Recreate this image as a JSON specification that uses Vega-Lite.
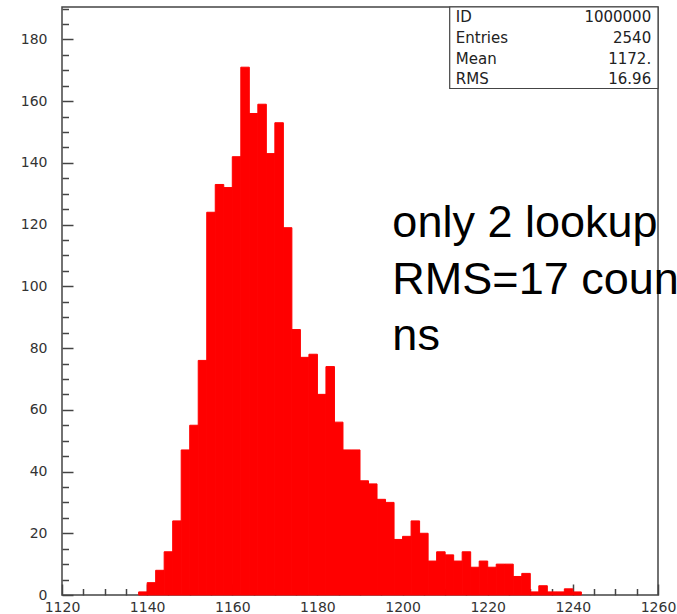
{
  "$schema": "https://vega.github.io/schema/vega-lite/v6.json",
  "width": 596,
  "height": 588,
  "autosize": {"type": "none"},
  "padding": {"left": 62, "top": 7, "right": 19, "bottom": 19},
  "background": "white",
  "config": {
    "view": {"stroke": "#444", "strokeWidth": 1.5},
    "axis": {
      "labelFont": "DejaVu Sans",
      "labelFontSize": 14,
      "labelColor": "#333",
      "tickColor": "#444",
      "tickWidth": 1.5,
      "domain": false,
      "grid": false,
      "title": null,
      "labelOverlap": false,
      "labelFlush": false,
      "labelBound": false
    }
  },
  "datasets": {
    "hist": [
      {"lo": 1138, "hi": 1140, "n": 1},
      {"lo": 1140, "hi": 1142, "n": 4},
      {"lo": 1142, "hi": 1144, "n": 8},
      {"lo": 1144, "hi": 1146, "n": 14},
      {"lo": 1146, "hi": 1148, "n": 24},
      {"lo": 1148, "hi": 1150, "n": 47},
      {"lo": 1150, "hi": 1152, "n": 55},
      {"lo": 1152, "hi": 1154, "n": 76},
      {"lo": 1154, "hi": 1156, "n": 124},
      {"lo": 1156, "hi": 1158, "n": 133},
      {"lo": 1158, "hi": 1160, "n": 132},
      {"lo": 1160, "hi": 1162, "n": 142},
      {"lo": 1162, "hi": 1164, "n": 171},
      {"lo": 1164, "hi": 1166, "n": 156},
      {"lo": 1166, "hi": 1168, "n": 159},
      {"lo": 1168, "hi": 1170, "n": 143},
      {"lo": 1170, "hi": 1172, "n": 153},
      {"lo": 1172, "hi": 1174, "n": 119},
      {"lo": 1174, "hi": 1176, "n": 86},
      {"lo": 1176, "hi": 1178, "n": 77},
      {"lo": 1178, "hi": 1180, "n": 78},
      {"lo": 1180, "hi": 1182, "n": 65},
      {"lo": 1182, "hi": 1184, "n": 74},
      {"lo": 1184, "hi": 1186, "n": 56},
      {"lo": 1186, "hi": 1188, "n": 47},
      {"lo": 1188, "hi": 1190, "n": 47},
      {"lo": 1190, "hi": 1192, "n": 37},
      {"lo": 1192, "hi": 1194, "n": 36},
      {"lo": 1194, "hi": 1196, "n": 31},
      {"lo": 1196, "hi": 1198, "n": 30},
      {"lo": 1198, "hi": 1200, "n": 18},
      {"lo": 1200, "hi": 1202, "n": 19},
      {"lo": 1202, "hi": 1204, "n": 24},
      {"lo": 1204, "hi": 1206, "n": 20},
      {"lo": 1206, "hi": 1208, "n": 11},
      {"lo": 1208, "hi": 1210, "n": 14},
      {"lo": 1210, "hi": 1212, "n": 13},
      {"lo": 1212, "hi": 1214, "n": 11},
      {"lo": 1214, "hi": 1216, "n": 14},
      {"lo": 1216, "hi": 1218, "n": 9},
      {"lo": 1218, "hi": 1220, "n": 11},
      {"lo": 1220, "hi": 1222, "n": 9},
      {"lo": 1222, "hi": 1224, "n": 10},
      {"lo": 1224, "hi": 1226, "n": 10},
      {"lo": 1226, "hi": 1228, "n": 6},
      {"lo": 1228, "hi": 1230, "n": 7},
      {"lo": 1230, "hi": 1232, "n": 1},
      {"lo": 1232, "hi": 1234, "n": 3},
      {"lo": 1234, "hi": 1236, "n": 1},
      {"lo": 1236, "hi": 1238, "n": 1},
      {"lo": 1238, "hi": 1240, "n": 2},
      {"lo": 1240, "hi": 1242, "n": 1}
    ]
  },
  "resolve": {"axis": {"x": "independent", "y": "independent"}},
  "layer": [
    {
      "data": {"name": "hist"},
      "mark": {"type": "rect", "fill": "#ff0000", "stroke": "#ff0000", "strokeWidth": 1},
      "encoding": {
        "x": {
          "field": "lo", "type": "quantitative",
          "scale": {"domain": [1120, 1260], "nice": false, "zero": false},
          "axis": {"orient": "bottom", "values": [1120, 1140, 1160, 1180, 1200, 1220, 1240, 1260], "format": "d", "tickSize": -11, "labelPadding": 16}
        },
        "x2": {"field": "hi"},
        "y": {
          "field": "n", "type": "quantitative",
          "scale": {"domain": [0, 190.5], "nice": false, "zero": true},
          "axis": {"orient": "left", "values": [0, 20, 40, 60, 80, 100, 120, 140, 160, 180], "format": "d", "tickSize": -11, "labelPadding": 26}
        },
        "y2": {"datum": 0}
      }
    },
    {
      "data": {"name": "hist"},
      "mark": {"type": "rect", "opacity": 0},
      "encoding": {
        "x": {
          "field": "lo", "type": "quantitative",
          "scale": {"domain": [1120, 1260], "nice": false, "zero": false},
          "axis": {"orient": "bottom", "values": [1125, 1130, 1135, 1145, 1150, 1155, 1165, 1170, 1175, 1185, 1190, 1195, 1205, 1210, 1215, 1225, 1230, 1235, 1245, 1250, 1255], "labels": false, "tickSize": -6.5}
        },
        "x2": {"field": "hi"},
        "y": {
          "field": "n", "type": "quantitative",
          "scale": {"domain": [0, 190.5], "nice": false, "zero": true},
          "axis": {"orient": "left", "values": [5, 10, 15, 25, 30, 35, 45, 50, 55, 65, 70, 75, 85, 90, 95, 105, 110, 115, 125, 130, 135, 145, 150, 155, 165, 170, 175, 185, 190], "labels": false, "tickSize": -6.5}
        },
        "y2": {"datum": 0}
      }
    },
    {
      "data": {"values": [{}]},
      "mark": {"type": "rect", "fill": "white", "stroke": "#444", "strokeWidth": 1.2},
      "encoding": {
        "x": {"datum": 1211.07, "type": "quantitative", "axis": null},
        "x2": {"datum": 1260},
        "y": {"datum": 164.1, "type": "quantitative", "axis": null},
        "y2": {"datum": 190.5}
      }
    },
    {
      "data": {"values": [{}]},
      "mark": {"type": "text", "text": ["ID", "Entries", "Mean", "RMS"], "font": "DejaVu Sans", "fontSize": 15, "color": "#222", "align": "left", "baseline": "alphabetic", "lineHeight": 20.7},
      "encoding": {
        "x": {"datum": 1212.5, "type": "quantitative", "axis": null},
        "y": {"datum": 185.6, "type": "quantitative", "axis": null}
      }
    },
    {
      "data": {"values": [{}]},
      "mark": {"type": "text", "text": ["1000000", "2540", "1172.", "16.96"], "font": "DejaVu Sans", "fontSize": 15, "color": "#222", "align": "right", "baseline": "alphabetic", "lineHeight": 20.7},
      "encoding": {
        "x": {"datum": 1258.4, "type": "quantitative", "axis": null},
        "y": {"datum": 185.6, "type": "quantitative", "axis": null}
      }
    },
    {
      "data": {"values": [{}]},
      "mark": {"type": "text", "text": ["only 2 lookup", "RMS=17 counts", "ns"], "font": "Liberation Sans", "fontSize": 45, "color": "black", "align": "left", "baseline": "alphabetic", "lineHeight": 56.5},
      "encoding": {
        "x": {"datum": 1197.6, "type": "quantitative", "axis": null},
        "y": {"datum": 115.9, "type": "quantitative", "axis": null}
      }
    }
  ]
}
